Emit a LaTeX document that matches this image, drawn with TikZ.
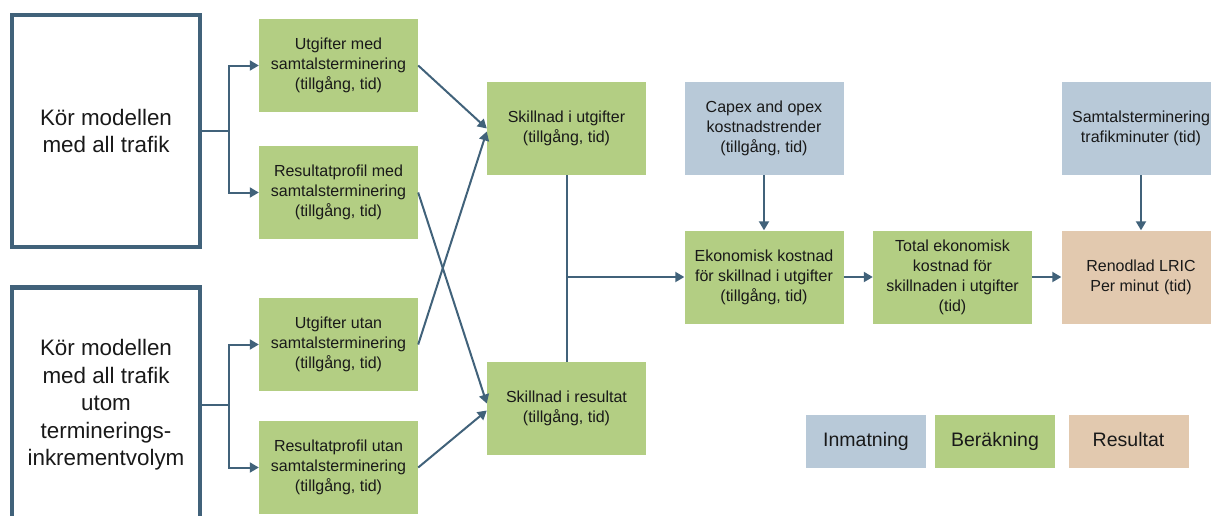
\documentclass[tikz,border=0pt]{standalone}
\usepackage{fontspec}
\setmainfont{Liberation Sans}
\usetikzlibrary{arrows.meta}
\definecolor{inmat}{RGB}{184,201,216}
\definecolor{berak}{RGB}{179,206,131}
\definecolor{resul}{RGB}{226,201,175}
\definecolor{pil}{RGB}{65,98,122}
\begin{document}
\begin{tikzpicture}[x=1pt, y=-1pt,
  box/.style={minimum width=159pt, minimum height=93pt, inner sep=0pt, align=center,
    text=black!90, font=\fontsize{16}{20}\selectfont},
  calc/.style={box, fill=berak},
  input/.style={box, fill=inmat},
  output/.style={box, fill=resul},
  run/.style={draw=pil, line width=4.5pt, minimum width=188pt, inner sep=0pt, align=center,
    text=black!90, font=\fontsize{22.4}{27.5}\selectfont},
  key/.style={minimum width=120pt, minimum height=53pt, inner sep=0pt,
    text height=14pt, text depth=4pt,
    text=black!90, font=\fontsize{19.5}{24}\selectfont},
  line/.style={draw=pil, line width=2pt},
  flow/.style={line, -{Triangle[width=10pt, length=9pt]}}]
  \useasboundingbox (0,0) rectangle (1211,515);
  % run boxes
  \node[run, minimum height=232pt] (all) at (106,131) {Kör modellen\\med all trafik};
  \node[run, minimum height=235pt] (utom) at (106,405)
    {Kör modellen\\med all trafik\\utom\\terminerings-\\inkrementvolym};
  % first column
  \node[calc] (utgmed) at (338.5,65.5) {Utgifter med\\samtalsterminering\\(tillgång, tid)};
  \node[calc] (resmed) at (338.5,192.5) {Resultatprofil med\\samtalsterminering\\(tillgång, tid)};
  \node[calc] (utgutan) at (338.5,344.5) {Utgifter utan\\samtalsterminering\\(tillgång, tid)};
  \node[calc] (resutan) at (338.5,467.5) {Resultatprofil utan\\samtalsterminering\\(tillgång, tid)};
  % differences
  \node[calc] (skutg) at (566.5,128.5) {Skillnad i utgifter\\(tillgång, tid)};
  \node[calc] (skres) at (566.5,408.5) {Skillnad i resultat\\(tillgång, tid)};
  % costs
  \node[input] (capex) at (764,128.5) {Capex and opex\\kostnadstrender\\(tillgång, tid)};
  \node[calc] (ekon) at (764,277) {Ekonomisk kostnad\\för skillnad i utgifter\\(tillgång, tid)};
  \node[calc] (total) at (952.5,277) {Total ekonomisk\\kostnad för\\skillnaden i utgifter\\(tid)};
  \node[input] (minut) at (1141,128.5) {Samtalsterminering\\trafikminuter (tid)};
  \node[output] (lric) at (1141,277) {Renodlad LRIC\\Per minut\,\,(tid)};
  % legend
  \node[key, fill=inmat] (kin) at (866,441.5) {Inmatning};
  \node[key, fill=berak] (kbe) at (995,441.5) {Beräkning};
  \node[key, fill=resul] (kre) at (1128.5,441.5) {Resultat};
  % connectors
  \draw[line] (all.east) -- ++(27,0) coordinate (f1);
  \draw[flow] (f1) |- (utgmed.west);
  \draw[flow] (f1) |- (resmed.west);
  \draw[line] (utom.east) -- ++(27,0) coordinate (f2);
  \draw[flow] (f2) |- (utgutan.west);
  \draw[flow] (f2) |- (resutan.west);
  \draw[flow] (utgmed.east) -- (skutg.west);
  \draw[flow] (utgutan.east) -- ([yshift=-3pt]skutg.west);
  \draw[flow] (resmed.east) -- ([yshift=5pt]skres.west);
  \draw[flow] (resutan.east) -- ([yshift=-2pt]skres.west);
  \draw[line] (skutg.south) -- (skres.north);
  \draw[flow] (skutg.south |- ekon.west) -- (ekon.west);
  \draw[flow] (capex.south) -- (ekon.north);
  \draw[flow] (ekon.east) -- (total.west);
  \draw[flow] (total.east) -- (lric.west);
  \draw[flow] (minut.south) -- (lric.north);
\end{tikzpicture}
\end{document}
